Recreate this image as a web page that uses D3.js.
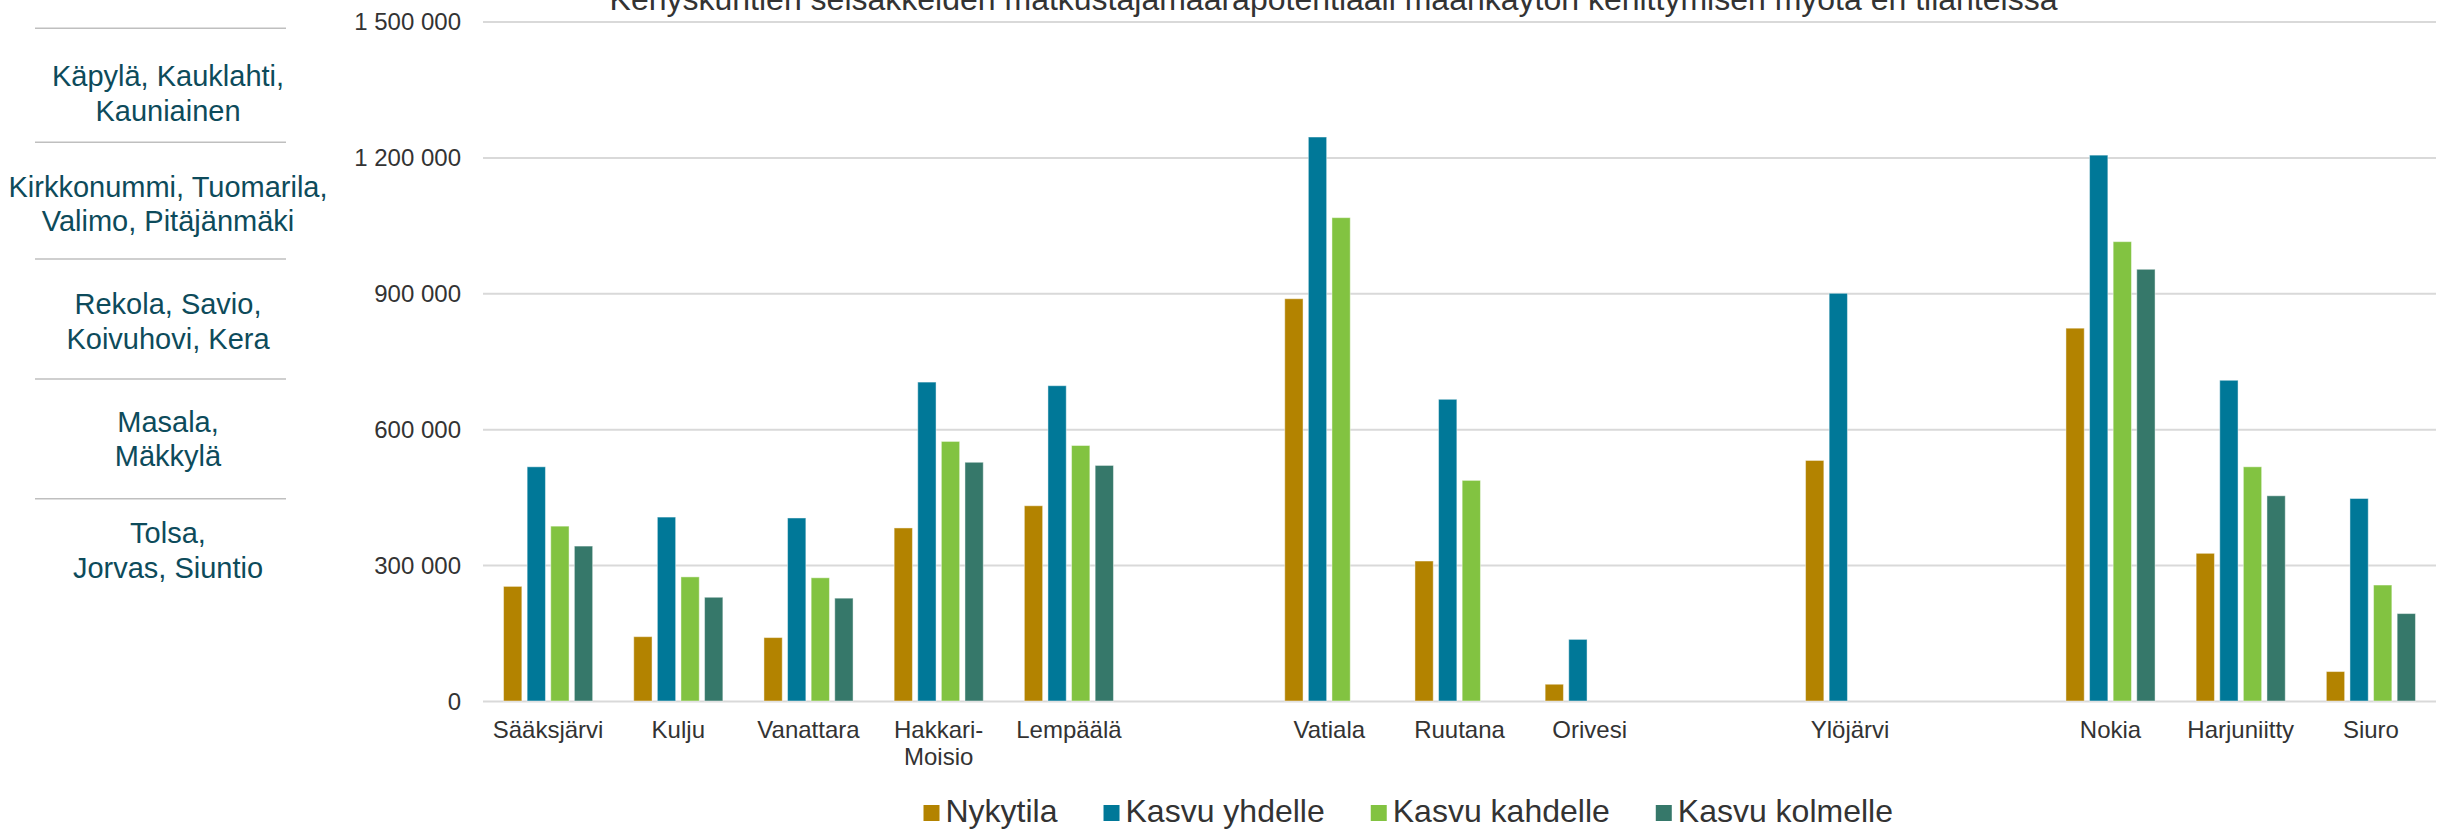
<!DOCTYPE html>
<html>
<head>
<meta charset="utf-8">
<script src="https://cdn.jsdelivr.net/npm/d3@7"></script>
<style>
  html, body { margin: 0; padding: 0; background: #ffffff; }
  svg { display: block; font-family: "Liberation Sans", Arial, sans-serif; }
</style>
</head>
<body>
<svg id="chart" width="2443" height="829"></svg>
<script>
// Stations (blank entries are empty separator slots between municipalities)
const categories = ["Sääksjärvi", "Kulju", "Vanattara", "Hakkari-Moisio", "Lempäälä", "",
  "Vatiala", "Ruutana", "Orivesi", "", "Ylöjärvi", "", "Nokia", "Harjuniitty", "Siuro"];

const seriesNames = ["Nykytila", "Kasvu yhdelle", "Kasvu kahdelle", "Kasvu kolmelle"];

const nykytila = [253000, 142000, 140000, 382000, 431000, null,
  888000, 309000, 37000, null, 531000, null, 823000, 326000, 65000];
const kasvuYhdelle = [517000, 406000, 404000, 704000, 696000, null,
  1245000, 666000, 136000, null, 900000, null, 1205000, 708000, 447000];
const kasvuKahdelle = [386000, 274000, 272000, 573000, 564000, null,
  1067000, 487000, null, null, null, null, 1014000, 517000, 256000];
const kasvuKolmelle = [342000, 229000, 227000, 527000, 520000, null,
  null, null, null, null, null, null, 953000, 453000, 193000];

const yTicks = [0, 300000, 600000, 900000, 1200000, 1500000];

const title = "Kehyskuntien seisakkeiden matkustajamääräpotentiaali maankäytön kehittymisen myötä eri tilanteissa";

// Side table of comparable stations
const sideRows = [
  ["Käpylä, Kauklahti,", "Kauniainen"],
  ["Kirkkonummi, Tuomarila,", "Valimo, Pitäjänmäki"],
  ["Rekola, Savio,", "Koivuhovi, Kera"],
  ["Masala,", "Mäkkylä"],
  ["Tolsa,", "Jorvas, Siuntio"]
];

const colors = ["#b38300", "#007898", "#82c341", "#36786a"];
const allSeries = [nykytila, kasvuYhdelle, kasvuKahdelle, kasvuKolmelle];

const svg = d3.select("#chart");

// Plot frame
const plotLeft = 483, plotRight = 2436, plotTop = 21.5, plotBottom = 701;

const x = d3.scaleBand()
  .domain(d3.range(categories.length))
  .range([plotLeft, plotRight])
  .paddingInner(0).paddingOuter(0);

const y = d3.scaleLinear()
  .domain([0, 1500000])
  .range([plotBottom, plotTop]);

const fiLocale = d3.formatLocale({ decimal: ",", thousands: " ", grouping: [3], currency: ["", " €"] });
const fmt = fiLocale.format(",d");

// Gridlines + value labels
const yAxis = svg.append("g")
  .attr("transform", `translate(${plotLeft},0)`)
  .call(d3.axisLeft(y).tickValues(yTicks).tickSize(-(plotRight - plotLeft)).tickPadding(22).tickFormat(fmt));
yAxis.select(".domain").remove();
yAxis.selectAll(".tick line").attr("stroke", "#d9d9d9").attr("stroke-width", 2);
yAxis.selectAll(".tick text")
  .attr("fill", "#333333")
  .attr("font-size", 24)
  .attr("dy", "0.35em")
  .style("font-family", "'Liberation Sans', Arial, sans-serif");

// Bars
const slot = x.bandwidth();
const barW = slot * 0.1405;
const barPitch = slot * 0.1813;
const groupW = barPitch * (seriesNames.length - 1) + barW;

const barData = [];
allSeries.forEach((vals, s) => {
  vals.forEach((v, i) => {
    if (v !== null) barData.push({ i, s, v });
  });
});

svg.append("g").selectAll("rect")
  .data(barData)
  .join("rect")
  .attr("x", d => x(d.i) + (slot - groupW) / 2 + d.s * barPitch)
  .attr("width", barW)
  .attr("y", d => y(d.v))
  .attr("height", d => y(0) - y(d.v))
  .attr("fill", d => colors[d.s])
  .attr("stroke", "#ffffff")
  .attr("stroke-opacity", 0.45)
  .attr("stroke-width", 1);

// Category labels (wrap after a hyphen)
const xLabels = svg.append("g")
  .attr("font-size", 24)
  .attr("fill", "#333333")
  .attr("text-anchor", "middle");
categories.forEach((c, i) => {
  if (!c) return;
  const parts = c.includes("-") ? [c.slice(0, c.indexOf("-") + 1), c.slice(c.indexOf("-") + 1)] : [c];
  const t = xLabels.append("text")
    .attr("x", x(i) + slot / 2)
    .attr("y", 738);
  parts.forEach((p, k) => {
    t.append("tspan")
      .attr("x", x(i) + slot / 2)
      .attr("dy", k === 0 ? 0 : 27)
      .text(p);
  });
});

// Title
svg.append("text")
  .attr("x", 1333.5)
  .attr("y", 10)
  .attr("text-anchor", "middle")
  .attr("font-size", 32)
  .attr("fill", "#333333")
  .text(title);

// Side table
const sideLineY = [28.3, 142.3, 259, 379, 498.7];
const sideBaseY = [86, 196.7, 314, 431.7, 543];
const side = svg.append("g");
side.selectAll("line")
  .data(sideLineY)
  .join("line")
  .attr("x1", 35).attr("x2", 286)
  .attr("y1", d => d).attr("y2", d => d)
  .attr("stroke", "#bfbfbf")
  .attr("stroke-width", 1.5);
sideRows.forEach((rows, r) => {
  const t = side.append("text")
    .attr("text-anchor", "middle")
    .attr("font-size", 29)
    .attr("fill", "#0d4b5b")
    .attr("y", sideBaseY[r]);
  rows.forEach((line, k) => {
    t.append("tspan")
      .attr("x", 168)
      .attr("dy", k === 0 ? 0 : 34.7)
      .text(line);
  });
});

// Legend
const legend = svg.append("g");
let lx = 923.5;
seriesNames.forEach((name, s) => {
  legend.append("rect")
    .attr("x", lx).attr("y", 805)
    .attr("width", 16).attr("height", 16)
    .attr("fill", colors[s]);
  const t = legend.append("text")
    .attr("x", lx + 22)
    .attr("y", 822)
    .attr("font-size", 32)
    .attr("fill", "#333333")
    .text(name);
  lx += 22 + t.node().getComputedTextLength() + 46;
});
</script>
</body>
</html>
